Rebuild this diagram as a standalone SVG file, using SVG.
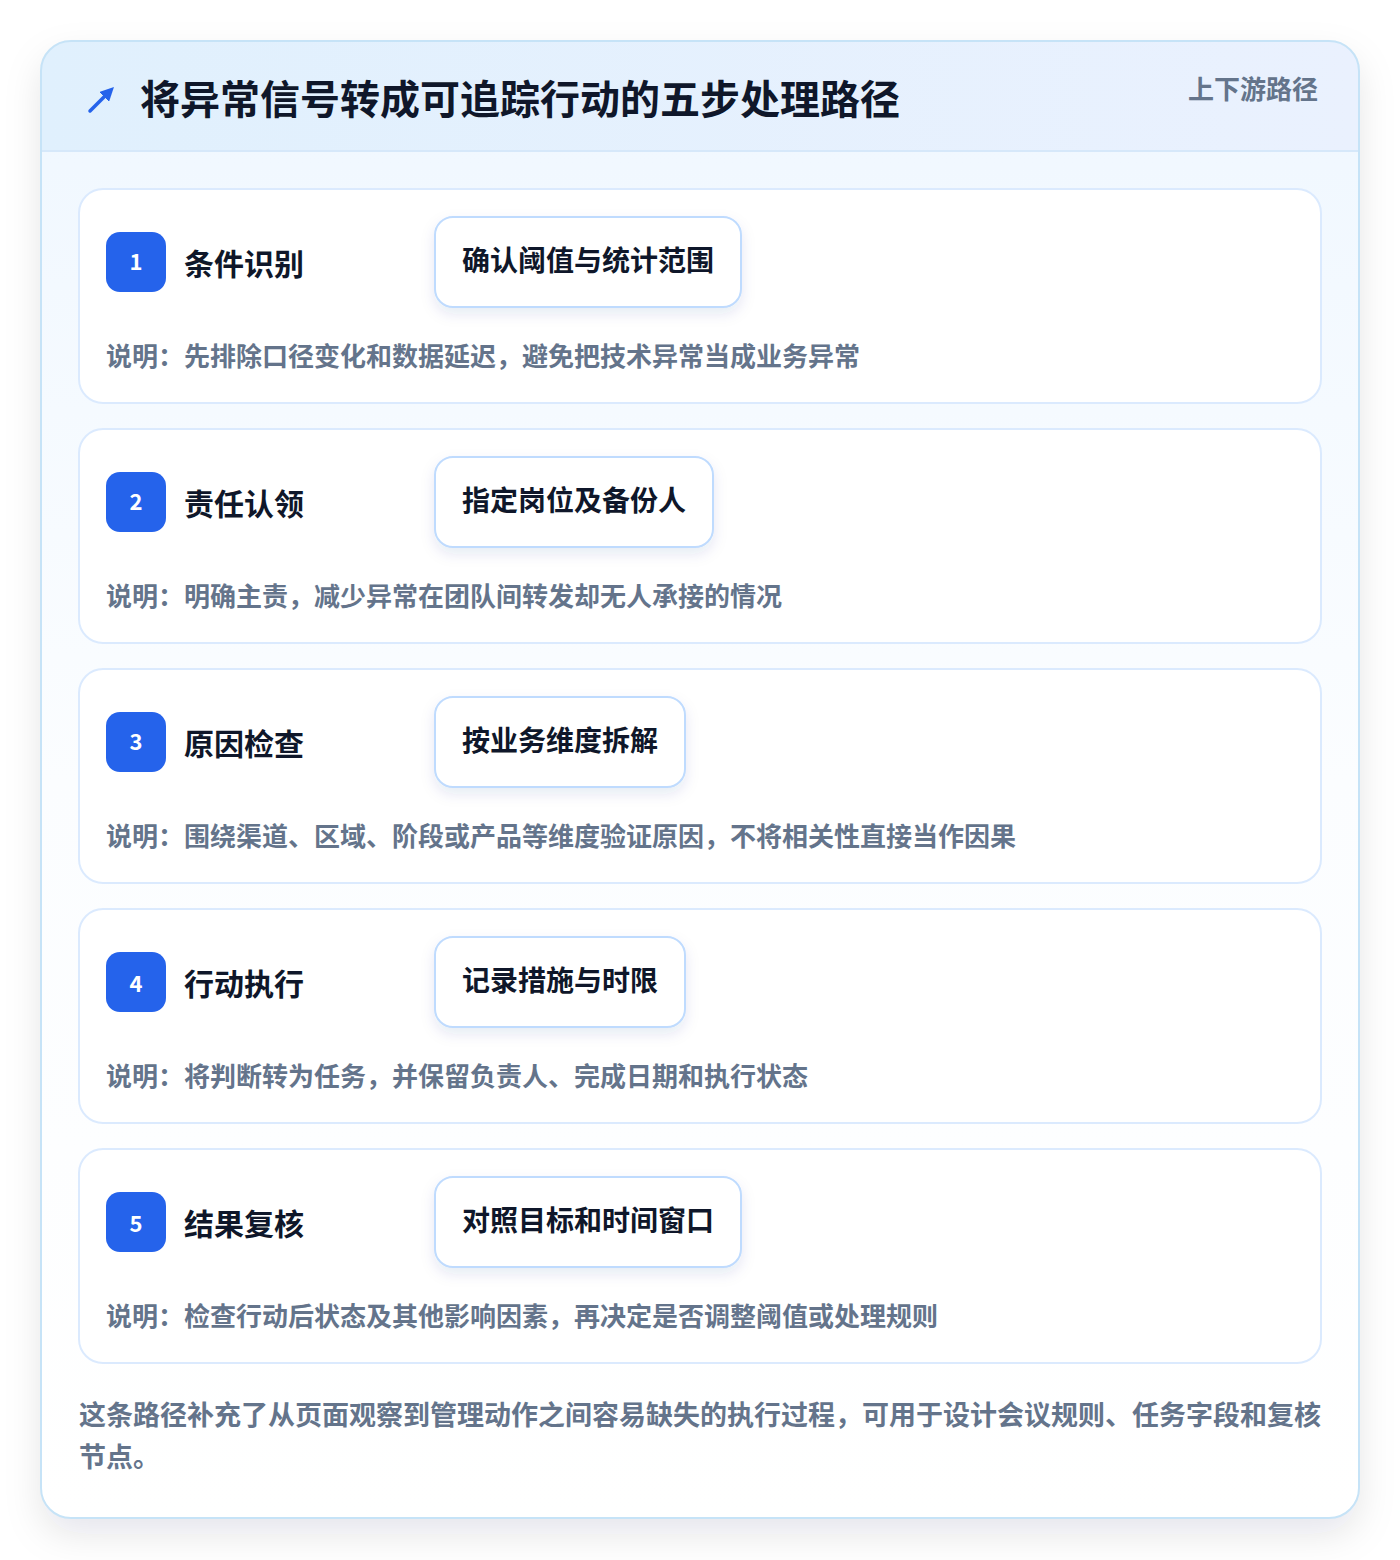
<svg xmlns="http://www.w3.org/2000/svg" width="1400" height="1560" viewBox="0 0 1400 1560">
<defs>
<style>
.t{font-family:"Noto Sans CJK SC","Noto Sans",sans-serif;font-weight:700}
.card{fill:#ffffff;stroke:#dbeafe;stroke-width:2}
.badge{fill:#2563eb}
.num{fill:#ffffff;font-size:22px;text-anchor:middle}
.title{fill:#0f172a;font-size:30px}
.pill{fill:#ffffff;stroke:#bfdbfe;stroke-width:2}
.pillt{fill:#0f172a;font-size:28px}
.desc{fill:#64748b;font-size:26px}
</style>
<linearGradient id="hdr" x1="0" y1="0" x2="1" y2="0">
<stop offset="0" stop-color="#e0f0fd"/>
<stop offset="1" stop-color="#eaf1fe"/>
</linearGradient>
<linearGradient id="body" x1="0" y1="0" x2="0" y2="1">
<stop offset="0" stop-color="#eff7ff"/>
<stop offset="0.5" stop-color="#fbfdff"/>
<stop offset="1" stop-color="#ffffff"/>
</linearGradient>
<filter id="sh" x="-10%" y="-10%" width="120%" height="120%">
<feDropShadow dx="0" dy="16" stdDeviation="18" flood-color="#0f172a" flood-opacity="0.10"/>
</filter>
<filter id="psh" x="-20%" y="-30%" width="140%" height="170%">
<feDropShadow dx="0" dy="6" stdDeviation="7" flood-color="#1e3a8a" flood-opacity="0.10"/>
</filter>
<clipPath id="outerClip"><rect x="41" y="41" width="1318" height="1477" rx="30"/></clipPath>
<marker id="ah" viewBox="0 0 10 10" refX="6" refY="5" markerWidth="4" markerHeight="4" orient="auto"><path d="M0,0 L10,5 L0,10 z" fill="#2563eb"/></marker>
</defs>
<rect width="1400" height="1560" fill="#ffffff"/>
<g id="frame">
<rect x="41" y="41" width="1318" height="1477" rx="30" fill="url(#body)" filter="url(#sh)"/>
<g clip-path="url(#outerClip)">
<rect x="41" y="41" width="1318" height="110" fill="url(#hdr)"/>
<line x1="41" y1="151" x2="1359" y2="151" stroke="#d6e8fa" stroke-width="2"/>
</g>
<rect x="41" y="41" width="1318" height="1477" rx="30" fill="none" stroke="#c6e3f7" stroke-width="2"/>
</g>
<g id="header">
<line x1="90" y1="111" x2="110" y2="91" stroke="#2563eb" stroke-width="3.5" stroke-linecap="round" marker-end="url(#ah)"/>
<text class="t" x="140" y="114" font-size="40" font-weight="900" fill="#0f172a">将异常信号转成可追踪行动的五步处理路径</text>
<text class="t" x="1318" y="99" font-size="26" fill="#64748b" text-anchor="end">上下游路径</text>
</g>
<g id="connectors"></g>
<g id="step1">
<rect class="card" x="79" y="189" width="1242" height="214" rx="24"/>
<rect class="badge" x="106" y="232" width="60" height="60" rx="14"/>
<text class="t num" x="136" y="270">1</text>
<text class="t title" x="184" y="275">条件识别</text>
<rect class="pill" x="435" y="217" width="306" height="90" rx="18" filter="url(#psh)"/>
<text class="t pillt" x="462" y="271">确认阈值与统计范围</text>
<text class="t desc" x="106" y="366">说明：先排除口径变化和数据延迟，避免把技术异常当成业务异常</text>
</g>
<g id="step2">
<rect class="card" x="79" y="429" width="1242" height="214" rx="24"/>
<rect class="badge" x="106" y="472" width="60" height="60" rx="14"/>
<text class="t num" x="136" y="510">2</text>
<text class="t title" x="184" y="515">责任认领</text>
<rect class="pill" x="435" y="457" width="278" height="90" rx="18" filter="url(#psh)"/>
<text class="t pillt" x="462" y="511">指定岗位及备份人</text>
<text class="t desc" x="106" y="606">说明：明确主责，减少异常在团队间转发却无人承接的情况</text>
</g>
<g id="step3">
<rect class="card" x="79" y="669" width="1242" height="214" rx="24"/>
<rect class="badge" x="106" y="712" width="60" height="60" rx="14"/>
<text class="t num" x="136" y="750">3</text>
<text class="t title" x="184" y="755">原因检查</text>
<rect class="pill" x="435" y="697" width="250" height="90" rx="18" filter="url(#psh)"/>
<text class="t pillt" x="462" y="751">按业务维度拆解</text>
<text class="t desc" x="106" y="846">说明：围绕渠道、区域、阶段或产品等维度验证原因，不将相关性直接当作因果</text>
</g>
<g id="step4">
<rect class="card" x="79" y="909" width="1242" height="214" rx="24"/>
<rect class="badge" x="106" y="952" width="60" height="60" rx="14"/>
<text class="t num" x="136" y="992">4</text>
<text class="t title" x="184" y="995">行动执行</text>
<rect class="pill" x="435" y="937" width="250" height="90" rx="18" filter="url(#psh)"/>
<text class="t pillt" x="462" y="991">记录措施与时限</text>
<text class="t desc" x="106" y="1086">说明：将判断转为任务，并保留负责人、完成日期和执行状态</text>
</g>
<g id="step5">
<rect class="card" x="79" y="1149" width="1242" height="214" rx="24"/>
<rect class="badge" x="106" y="1192" width="60" height="60" rx="14"/>
<text class="t num" x="136" y="1232">5</text>
<text class="t title" x="184" y="1235">结果复核</text>
<rect class="pill" x="435" y="1177" width="306" height="90" rx="18" filter="url(#psh)"/>
<text class="t pillt" x="462" y="1231">对照目标和时间窗口</text>
<text class="t desc" x="106" y="1326">说明：检查行动后状态及其他影响因素，再决定是否调整阈值或处理规则</text>
</g>
<g id="footer">
<text class="t" x="79" y="1425" font-size="27" fill="#64748b">这条路径补充了从页面观察到管理动作之间容易缺失的执行过程，可用于设计会议规则、任务字段和复核</text>
<text class="t" x="79" y="1467" font-size="27" fill="#64748b">节点。</text>
</g>
</svg>
